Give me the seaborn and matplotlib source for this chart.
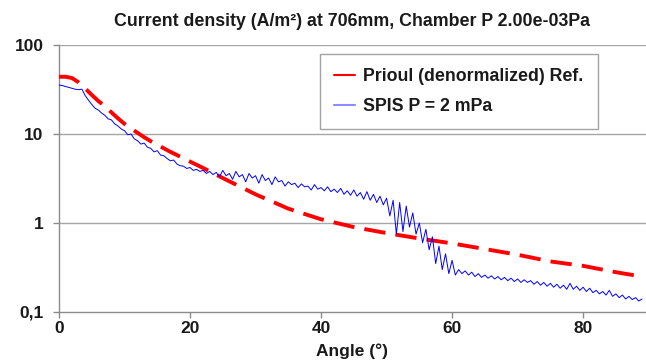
import numpy as np
import pandas as pd
import matplotlib
matplotlib.use("Agg")
import matplotlib.pyplot as plt
import seaborn as sns

# ---- data ----
red_angle = [0, 1, 2, 3, 4, 5, 6, 7, 8, 9, 10, 11, 12, 13, 14, 15, 16, 17, 18, 20,
             22, 25, 30, 35, 40, 45, 50, 55, 60, 65, 70, 75, 80, 85, 89]
red_value = [44, 44, 42.5, 38, 32.5, 27.5, 23.5, 20.5, 17.5, 15, 13, 11.5, 10.3, 9.2, 8.3, 7.6,
             6.9, 6.3, 5.8, 4.9, 4.15, 3.2, 2.1, 1.45, 1.1, 0.9, 0.77, 0.67, 0.59, 0.51,
             0.44, 0.37, 0.33, 0.28, 0.25]

blue_angle = [i * 0.5 for i in range(179)]
blue_value = [
    35.5, 35, 34.2, 33.5, 32.6, 31.8, 31.5, 31.9, 27, 24,
    21.5, 19.5, 18.6, 17.2, 16.2, 14.8, 14.4, 13.0, 12.3, 11.4,
    10.9, 9.8, 10.0, 8.8, 8.4, 7.7, 7.9, 7.1, 6.9, 6.3,
    6.5, 5.8, 5.7, 5.3, 5.0, 5.1, 4.6, 4.4, 4.35, 4.1,
    4.2, 3.9, 4.0, 3.8, 3.9, 3.6, 3.8, 3.5, 3.7, 3.3,
    3.9, 3.4, 3.6, 3.1, 3.8, 3.3, 3.5, 2.9, 3.6, 3.2,
    3.4, 2.8, 3.5, 3.0, 3.2, 2.7, 3.3, 2.9, 3.0, 2.6,
    2.9, 2.7, 2.8, 2.5, 2.75, 2.55, 2.6, 2.35, 2.7, 2.4,
    2.5, 2.3, 2.55, 2.25, 2.4, 2.2, 2.45, 2.1, 2.3, 2.05,
    2.35, 2.0, 2.2, 1.85, 2.25, 1.8, 2.1, 1.7, 2.0, 1.6,
    1.9, 1.2, 1.8, 0.75, 1.7, 0.8, 1.55, 0.9, 1.3, 0.75,
    1.0, 0.6, 0.85, 0.5, 0.7, 0.35, 0.55, 0.3, 0.45, 0.27,
    0.38, 0.26, 0.3, 0.27, 0.29, 0.26, 0.28, 0.25, 0.27, 0.245,
    0.26, 0.24, 0.255, 0.235, 0.25, 0.23, 0.245, 0.225, 0.24, 0.22,
    0.235, 0.215, 0.23, 0.215, 0.225, 0.205, 0.22, 0.2, 0.215, 0.195,
    0.21, 0.19, 0.205, 0.185, 0.2, 0.18, 0.21, 0.18, 0.195, 0.175,
    0.19, 0.17, 0.185, 0.165, 0.175, 0.16, 0.17, 0.155, 0.175, 0.15,
    0.16, 0.145, 0.155, 0.14, 0.15, 0.138, 0.145, 0.133, 0.14,
]

ytick_values = [0.1, 1, 10, 100]
ytick_labels = ["0,1", "1", "10", "100"]
xtick_values = [0, 20, 40, 60, 80]

title = "Current density (A/m²) at 706mm, Chamber P 2.00e-03Pa"
red_label = "Prioul (denormalized) Ref."
blue_label = "SPIS P = 2 mPa"

# ---- plot ----
sns.set_theme(style="white")
plt.rcParams["font.family"] = ["Liberation Sans", "DejaVu Sans"]

fig = plt.figure(figsize=(6.46, 3.63), dpi=100)
ax = fig.add_axes([59 / 646, 1 - 312 / 363, 1 - 59 / 646, (312 - 45) / 363])

df_red = pd.DataFrame({"angle": red_angle, "value": red_value})
df_blue = pd.DataFrame({"angle": blue_angle, "value": blue_value})

sns.lineplot(data=df_red, x="angle", y="value", ax=ax, color="#FF0000",
             linewidth=2.8, label=red_label, zorder=3)
ax.lines[-1].set_dashes([5.5, 2.6])
sns.lineplot(data=df_blue, x="angle", y="value", ax=ax, color="#0000FF",
             linewidth=0.7, label=blue_label, zorder=4)

ax.set_yscale("log")
ax.set_ylim(0.1, 100)
ax.set_xlim(0, 89.6)
ax.set_yticks(ytick_values)
ax.set_yticklabels(ytick_labels)
ax.yaxis.set_minor_locator(matplotlib.ticker.NullLocator())
ax.set_xticks(xtick_values)

for v in [1, 10, 100]:
    ax.axhline(v, color="#A6A6A6", linewidth=1.0, zorder=1)

for s in ["top", "right"]:
    ax.spines[s].set_visible(False)
for s in ["left", "bottom"]:
    ax.spines[s].set_color("#8C8C8C")
    ax.spines[s].set_linewidth(1.0)

ax.tick_params(axis="both", which="major", length=4.5, width=1, color="#8C8C8C",
               direction="out", labelsize=12.5)
ax.tick_params(axis="x", bottom=True, pad=2)
ax.tick_params(axis="y", left=True, pad=6.5)
for lab in ax.get_xticklabels() + ax.get_yticklabels():
    lab.set_fontweight("bold")
    lab.set_color("#1a1a1a")

ax.set_xlabel("Angle (°)", fontsize=12.5, fontweight="bold", color="#1a1a1a", labelpad=5)
ax.set_ylabel("")
ax.set_title(title, fontsize=12.8, fontweight="bold", color="#1a1a1a", pad=14)

leg = ax.legend(loc="upper right", bbox_to_anchor=(0.918, 0.966), borderaxespad=0,
                frameon=True, fancybox=False, edgecolor="#8C8C8C", handlelength=1.2,
                handletextpad=0.45, borderpad=0.8, labelspacing=0.7,
                prop={"weight": "bold", "size": 12.8})
leg.get_frame().set_linewidth(1.0)
leg.legend_handles[0].set_linestyle("-")
leg.legend_handles[0].set_linewidth(1.5)
leg.legend_handles[1].set_alpha(0.45)
leg.legend_handles[1].set_linewidth(1.5)
for t in leg.get_texts():
    t.set_color("#1a1a1a")

fig.savefig("out.png", dpi=100)
